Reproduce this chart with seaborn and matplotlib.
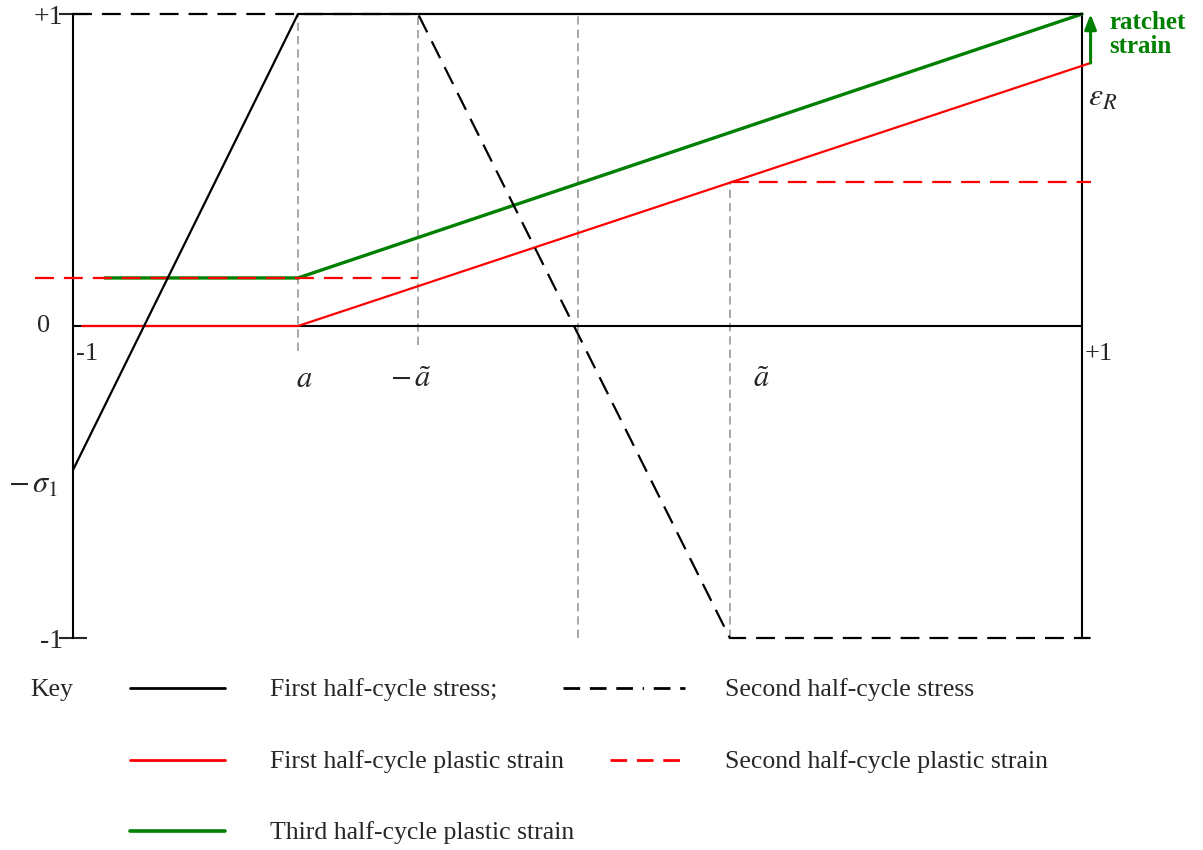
import matplotlib
matplotlib.use("Agg")
import matplotlib.pyplot as plt
from matplotlib.lines import Line2D
import pandas as pd
import seaborn as sns

# schematic positions
a = -0.554          # end of elastic zone, first half-cycle
at = 0.302          # a-tilde
sigma1 = 0.4615
eps2 = 0.154        # second half-cycle plastic strain level (left)
eps2_right = 0.4615
eps_end = 0.843     # first half-cycle plastic strain at +1

stress1_x = [-1.0, a, 1.0]
stress1_y = [-sigma1, 1.0, 1.0]
stress2_x = [-1.0, -0.316, at, 1.017]
stress2_y = [1.0, 1.0, -1.0, -1.0]
strain1_x = [-0.982, a, 1.017]
strain1_y = [0.0, 0.0, eps_end]
strain2_x = [-1.075, -0.316, at, 1.017]
strain2_y = [eps2, eps2, eps2_right, eps2_right]
strain2_seg = [0, 0, 1, 1]
strain3_x = [-0.937, a, 1.0]
strain3_y = [eps2, eps2, 1.0]
guide_x = [a, -0.316, 0.0, at]
guide_top = [1.0, 1.0, 1.0, eps2_right]
guide_bot = [-0.08, -0.06, -1.0, -1.0]

key_labels = ["First half-cycle stress;", "Second half-cycle stress",
              "First half-cycle plastic strain", "Second half-cycle plastic strain",
              "Third half-cycle plastic strain"]

sns.set_style("white")
plt.rcParams["font.family"] = ["Liberation Serif", "DejaVu Serif"]
plt.rcParams["mathtext.fontset"] = "stix"

fig = plt.figure(figsize=(12.03, 8.5), dpi=100)
ax = fig.add_axes([73 / 1203, (850 - 638) / 850, 1009 / 1203, 624 / 850])
ax.set_xlim(-1, 1)
ax.set_ylim(-1, 1)

# guide lines
for gx, gt, gb in zip(guide_x, guide_top, guide_bot):
    ax.plot([gx, gx], [gb, gt], color="#999999", lw=1.2, linestyle=(0, (5, 3)), zorder=1)

ax.axhline(0, color="black", lw=1.5, zorder=2)

sns.lineplot(x=stress1_x, y=stress1_y, ax=ax, color="black", lw=1.6, sort=False,
             estimator=None, zorder=4, clip_on=False)
sns.lineplot(x=stress2_x, y=stress2_y, ax=ax, color="black", lw=1.6, sort=False,
             estimator=None, linestyle=(0, (8.5, 4.5)), zorder=4, clip_on=False)
sns.lineplot(x=strain3_x, y=strain3_y, ax=ax, color="green", lw=2.4, sort=False,
             estimator=None, zorder=3, clip_on=False)
sns.lineplot(x=strain1_x, y=strain1_y, ax=ax, color="red", lw=1.6, sort=False,
             estimator=None, zorder=3, clip_on=False)
df2 = pd.DataFrame({"x": strain2_x, "y": strain2_y, "seg": strain2_seg})
sns.lineplot(data=df2, x="x", y="y", units="seg", ax=ax, color="red", lw=1.6, sort=False,
             estimator=None, linestyle=(0, (8.5, 4.5)), zorder=3, clip_on=False)
ax.set_xlabel("")
ax.set_ylabel("")

# ratchet arrow
ax.annotate("", xy=(1.017, 1.0), xytext=(1.017, eps_end),
            arrowprops=dict(arrowstyle="-|>,head_width=0.35,head_length=0.9",
                            color="green", lw=2.2, shrinkA=0, shrinkB=0),
            annotation_clip=False)
ax.text(1.055, 0.935, "ratchet\nstrain", color="green", fontweight="bold",
        fontsize=18, ha="left", va="center", linespacing=1.05)
ax.text(1.012, 0.73, r"$\varepsilon_R$", fontsize=23, ha="left", va="center")

# spines and ticks
sns.despine(ax=ax, top=True, bottom=True, left=False, right=False)
for side in ("left", "right"):
    ax.spines[side].set_color("black")
    ax.spines[side].set_linewidth(1.5)
ax.set_xticks([])
ax.set_yticks([-1, 1])
ax.set_yticklabels(["-1", "+1"], fontsize=20)
ax.tick_params(axis="y", direction="inout", length=20, width=1.5, pad=-3, left=True)
ax.text(-1.045, 0.0, "0", fontsize=19, ha="right", va="center")
ax.text(-1.03, -sigma1 - 0.05, r"$-\,\sigma_1$", fontsize=22, ha="right", va="center")
ax.text(-0.995, -0.09, "-1", fontsize=19, ha="left", va="center")
ax.text(1.005, -0.09, "+1", fontsize=19, ha="left", va="center")
ax.text(a + 0.012, -0.17, r"$a$", fontsize=22, ha="center", va="center")
ax.text(-0.33, -0.17, r"$-\,\tilde{a}$", fontsize=22, ha="center", va="center")
ax.text(at + 0.063, -0.17, r"$\tilde{a}$", fontsize=22, ha="center", va="center")

# key
W, H = 1203, 850
def key_line(x0, x1, y, **kw):
    fig.add_artist(Line2D([x0 / W, x1 / W], [1 - y / H, 1 - y / H], **kw))

fs = 18.5
fig.text(30 / W, 1 - 690 / H, "Key", fontsize=fs, va="center")
key_line(130, 225, 688, color="black", lw=2)
fig.text(270 / W, 1 - 690 / H, key_labels[0], fontsize=fs, va="center")
key_line(563, 685, 688, color="black", lw=2, linestyle=(0, (6, 3.5, 6, 3.5, 6, 3.5, 0.5, 3.5)))
fig.text(725 / W, 1 - 690 / H, key_labels[1], fontsize=fs, va="center")
key_line(130, 225, 760, color="red", lw=2)
fig.text(270 / W, 1 - 762 / H, key_labels[2], fontsize=fs, va="center")
key_line(610, 685, 760, color="red", lw=2, linestyle=(0, (6, 3.5)))
fig.text(725 / W, 1 - 762 / H, key_labels[3], fontsize=fs, va="center")
key_line(130, 225, 831, color="green", lw=2.6)
fig.text(270 / W, 1 - 833 / H, key_labels[4], fontsize=fs, va="center")

fig.savefig("out.png", dpi=100)
